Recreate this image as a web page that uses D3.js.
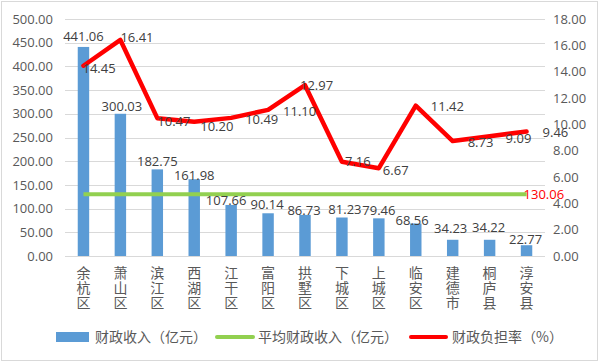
<!DOCTYPE html>
<html><head><meta charset="utf-8">
<script src="https://cdn.jsdelivr.net/npm/d3@7"></script>
<style>
html,body{margin:0;padding:0;background:#fff;}
svg{display:block;}
</style></head>
<body>
<svg id="chart" width="602" height="362"></svg>
<script>
// ---- data ----
const categories = ["余杭区","萧山区","滨江区","西湖区","江干区","富阳区","拱墅区","下城区","上城区","临安区","建德市","桐庐县","淳安县"];
const revenue = [441.06,300.03,182.75,161.98,107.66,90.14,86.73,81.23,79.46,68.56,34.23,34.22,22.77];
const avgRevenue = 130.06;
const ratio = [14.45,16.41,10.47,10.20,10.49,11.10,12.97,7.16,6.67,11.42,8.73,9.09,9.46];
const leftTicks = [0,50,100,150,200,250,300,350,400,450,500];
const rightTicks = [0,2,4,6,8,10,12,14,16,18];
const seriesNames = ["财政收入（亿元）","平均财政收入（亿元）","财政负担率（%）"];

// ---- layout ----
const svg = d3.select("#chart");
const numFont = "'Open Sans', 'DejaVu Sans', sans-serif";
const cjkFont = "'Noto Sans CJK SC', 'Noto Sans', sans-serif";
const plot = {left:65, right:545, top:19, bottom:256};

svg.append("rect").attr("x",1.5).attr("y",1.5).attr("width",596).attr("height",359)
  .attr("fill","#fff").attr("stroke","#D9D9D9").attr("stroke-width",1);

const x = d3.scaleBand().domain(categories).range([plot.left, plot.right])
  .paddingInner(0.69).paddingOuter(0.345);
const yL = d3.scaleLinear().domain([0,500]).range([plot.bottom, plot.top]);
const yR = d3.scaleLinear().domain([0,18]).range([plot.bottom, plot.top]);
const cx = c => x(c) + x.bandwidth()/2;

// gridlines
svg.append("g").selectAll("line").data(leftTicks).join("line")
  .attr("x1",plot.left).attr("x2",plot.right)
  .attr("y1",d=>Math.round(yL(d))+0.5).attr("y2",d=>Math.round(yL(d))+0.5)
  .attr("stroke","#D9D9D9").attr("stroke-width",1);

// left axis
const axL = d3.axisLeft(yL).tickValues(leftTicks).tickFormat(d3.format(".2f")).tickSize(0).tickPadding(12);
const gL = svg.append("g").attr("transform",`translate(${plot.left},0)`).call(axL);
gL.select(".domain").remove();
gL.selectAll("text").attr("font-family",numFont).attr("font-size",13).attr("fill","#595959");

// right axis
const axR = d3.axisRight(yR).tickValues(rightTicks).tickFormat(d3.format(".2f")).tickSize(0).tickPadding(8);
const gR = svg.append("g").attr("transform",`translate(${plot.right},0)`).call(axR);
gR.select(".domain").remove();
gR.selectAll("text").attr("font-family",numFont).attr("font-size",13).attr("fill","#595959");

// category labels (vertical writing)
svg.append("g").selectAll("text").data(categories).join("text")
  .attr("x",c=>cx(c)).attr("y",plot.bottom + 10)
  .attr("font-family",cjkFont).attr("font-size",14).attr("fill","#595959")
  .style("writing-mode","vertical-rl").style("text-orientation","upright")
  .attr("letter-spacing",1)
  .text(c=>c);

// bars
svg.append("g").selectAll("rect").data(categories).join("rect")
  .attr("x",c=>x(c)).attr("width",x.bandwidth())
  .attr("y",(c,i)=>yL(revenue[i])).attr("height",(c,i)=>yL(0)-yL(revenue[i]))
  .attr("fill","#5B9BD5");

// average line
const avgLine = d3.line().x(c=>cx(c)).y(()=>yL(avgRevenue));
svg.append("path").datum(categories).attr("d",avgLine)
  .attr("fill","none").attr("stroke","#92D050").attr("stroke-width",4);

// ratio line
const rLine = d3.line().x(c=>cx(c)).y((c,i)=>yR(ratio[i]));
svg.append("path").datum(categories).attr("d",rLine)
  .attr("fill","none").attr("stroke","#FF0000").attr("stroke-width",4.5)
  .attr("stroke-linejoin","round").attr("stroke-linecap","round");

// bar value labels
const barLabelOff = [[0,-10.5],[1.5,-7.5],[0,-8.3],[0,-4],[-5,-5],[-1,-9.4],[-1,-5],[3,-8],[0,-8],[-3.6,-3.3],[-2,-11],[-1,-12],[-1,-6]];
svg.append("g").selectAll("text").data(categories).join("text")
  .attr("x",(c,i)=>cx(c)+barLabelOff[i][0])
  .attr("y",(c,i)=>yL(revenue[i])+barLabelOff[i][1])
  .attr("dy","0.36em").attr("text-anchor","middle")
  .attr("font-family",numFont).attr("font-size",13).attr("fill","#404040")
  .text((c,i)=>d3.format(".2f")(revenue[i]));

// line value labels
const lineLabelOff = [[-1,3],[0,-3],[0,3],[6,5],[14,1],[15,1],[-5,0],[3,0],[4,2],[15,1],[15,1],[16,2],[16,1]];
svg.append("g").selectAll("text").data(categories).join("text")
  .attr("x",(c,i)=>cx(c)+lineLabelOff[i][0])
  .attr("y",(c,i)=>yR(ratio[i])+lineLabelOff[i][1])
  .attr("dy","0.36em").attr("text-anchor","start")
  .attr("font-family",numFont).attr("font-size",13).attr("fill","#404040")
  .text((c,i)=>d3.format(".2f")(ratio[i]));

// average label
svg.append("text").attr("x",cx(categories[categories.length-1])-3).attr("y",yL(avgRevenue))
  .attr("dy","0.36em").attr("font-family",numFont).attr("font-size",13).attr("fill","#FF0000")
  .text(d3.format(".2f")(avgRevenue));

// legend
const ly = 337;
const lg = svg.append("g").attr("font-family",cjkFont).attr("font-size",14).attr("fill","#595959");
lg.append("rect").attr("x",56).attr("y",ly-5).attr("width",33).attr("height",10).attr("fill","#5B9BD5");
lg.append("text").attr("x",95).attr("y",ly).attr("dy","0.36em").text(seriesNames[0]);
lg.append("line").attr("x1",217).attr("x2",253).attr("y1",ly).attr("y2",ly)
  .attr("stroke","#92D050").attr("stroke-width",4).attr("stroke-linecap","round");
lg.append("text").attr("x",258).attr("y",ly).attr("dy","0.36em").text(seriesNames[1]);
lg.append("line").attr("x1",411).attr("x2",446).attr("y1",ly).attr("y2",ly)
  .attr("stroke","#FF0000").attr("stroke-width",4).attr("stroke-linecap","round");
lg.append("text").attr("x",452).attr("y",ly).attr("dy","0.36em").text(seriesNames[2]);
</script>
</body></html>
